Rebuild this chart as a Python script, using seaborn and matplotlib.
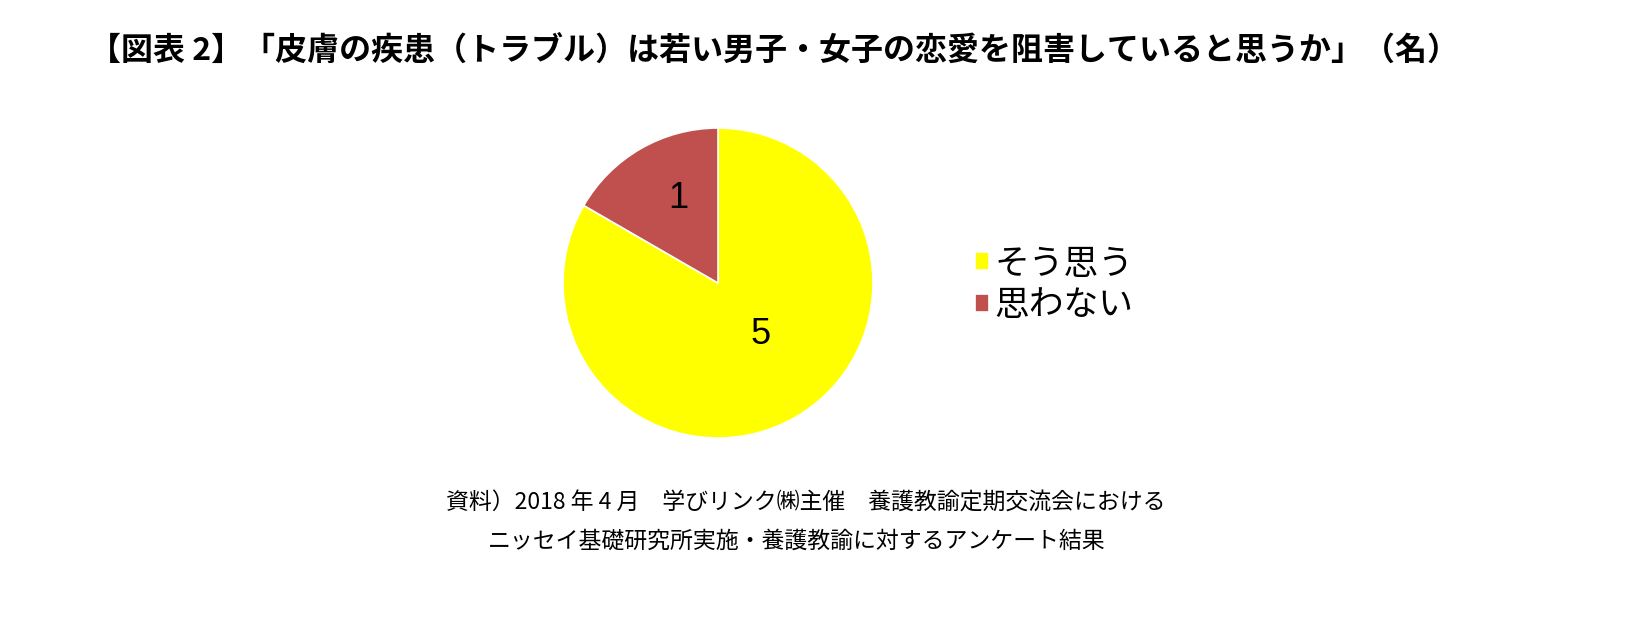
import numpy as np
import matplotlib.pyplot as plt
import seaborn as sns

# data
labels = ['そう思う', '思わない']
counts = [5, 1]
colors = ['#FFFF00', '#C0504D']

title = '【図表 2】「皮膚の疾患（トラブル）は若い男子・女子の恋愛を阻害していると思うか」（名）'
source1 = '資料）2018 年 4 月　学びリンク㈱主催　養護教諭定期交流会における'
source2 = 'ニッセイ基礎研究所実施・養護教諭に対するアンケート結果'

sns.set_theme(style='white')
plt.rcParams['font.family'] = ['Noto Sans CJK JP', 'DejaVu Sans']
plt.rcParams['text.color'] = 'black'

fig = plt.figure(figsize=(16.36, 6.25), dpi=100)

# pie axes, centre (718, 283) radius 155 px
cx, cy, r = 718 / 1636, (625 - 283) / 625, 155
ax = fig.add_axes([cx - r / 1636, cy - r / 625, 2 * r / 1636, 2 * r / 625])
wedges, texts = ax.pie(counts, colors=colors, startangle=90, counterclock=False,
                       labels=[str(c) for c in counts], labeldistance=0.5,
                       wedgeprops=dict(edgecolor='white', linewidth=1.2),
                       textprops=dict(fontsize=26, family='Liberation Sans', color='black'))
# move number labels like the original
dists = [0.43, 0.6]
for w, t, d in zip(wedges, texts, dists):
    ang = np.deg2rad((w.theta1 + w.theta2) / 2 + (10 if d < 0.5 else -5))
    t.set_position((d * np.cos(ang), d * np.sin(ang)))
    t.set_ha('center')
    t.set_va('center')
ax.set_xlim(-1, 1)
ax.set_ylim(-1, 1)
ax.set_aspect('equal')

fig.legend(wedges, labels, loc='center left', bbox_to_anchor=(944 / 1636, (625 - 285) / 625),
           frameon=False, fontsize=25, handlelength=0.4, handleheight=0.4,
           handletextpad=0.15, labelspacing=0.2, labelcolor='black')

fig.text(774 / 1636, 1 - 52 / 625, title, ha='center', va='center',
         fontsize=23, fontweight='bold', color='black')
fig.text(806 / 1636, 1 - 503 / 625, source1, ha='center', va='center',
         fontsize=16.5, color='black')
fig.text(797 / 1636, 1 - 541 / 625, source2, ha='center', va='center',
         fontsize=16.5, color='black')

fig.savefig('out.png', dpi=100, facecolor='white')
